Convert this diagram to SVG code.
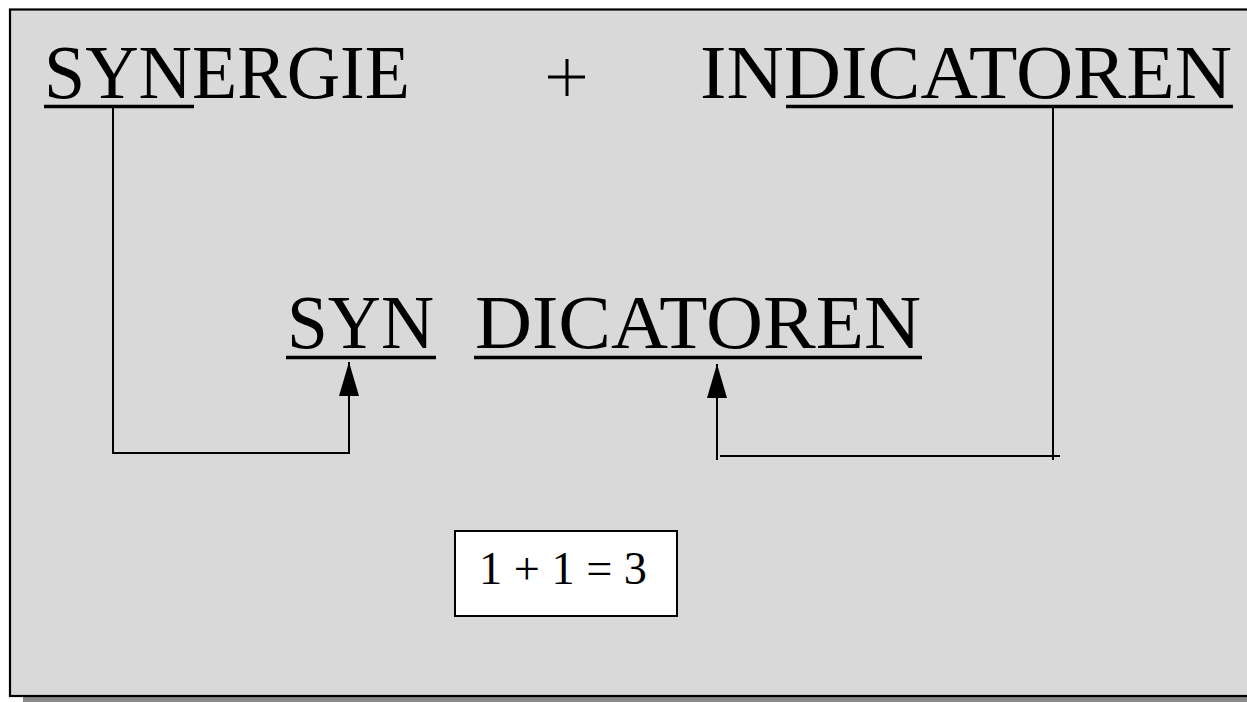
<svg xmlns="http://www.w3.org/2000/svg" width="1247" height="702" viewBox="0 0 1247 702">
  <style>
    .t { font-family: "Liberation Serif", "DejaVu Serif", serif; font-size: 76px; fill: #000; }
    .u { stroke: #000; stroke-width: 3.5; fill: none; }
    .c { stroke: #000; stroke-width: 2; fill: none; }
    .p { stroke: #000; stroke-width: 3; fill: none; }
    .eq { font-family: "Liberation Serif", "DejaVu Serif", serif; font-size: 47px; fill: #000; }
  </style>
  <defs>
    <marker id="arrow" viewBox="0 0 34 20" refX="34" refY="10" markerWidth="34" markerHeight="20" markerUnits="userSpaceOnUse" orient="auto">
      <path d="M0,0 L34,10 L0,20 Z" fill="#000"/>
    </marker>
  </defs>
  <rect width="1247" height="702" fill="#ffffff"/>
  <g id="frame">
    <rect x="23" y="697" width="1230" height="6" fill="#888888"/>
    <rect x="10" y="9.5" width="1250" height="686.5" fill="#d9d9d9" stroke="#000" stroke-width="2.2"/>
  </g>
  <g id="synergie">
    <text class="t" x="44" y="98" textLength="366" lengthAdjust="spacingAndGlyphs">SYNERGIE</text>
    <line class="u" x1="44" y1="106.5" x2="194" y2="106.5"/>
  </g>
  <g id="plus">
    <line class="p" x1="548" y1="77" x2="585" y2="77"/>
    <line class="p" x1="567" y1="59" x2="567" y2="96"/>
  </g>
  <g id="indicatoren">
    <text class="t" x="700" y="98" textLength="532" lengthAdjust="spacingAndGlyphs">INDICATOREN</text>
    <line class="u" x1="786" y1="106.5" x2="1233" y2="106.5"/>
  </g>
  <g id="syn">
    <text class="t" x="287" y="348" textLength="147" lengthAdjust="spacingAndGlyphs">SYN</text>
    <line class="u" x1="286" y1="357.5" x2="436" y2="357.5"/>
  </g>
  <g id="dicatoren">
    <text class="t" x="475" y="348" textLength="446" lengthAdjust="spacingAndGlyphs">DICATOREN</text>
    <line class="u" x1="474" y1="357.5" x2="922" y2="357.5"/>
  </g>
  <g id="equation">
    <rect x="455" y="531" width="222" height="85" fill="#ffffff" stroke="#000" stroke-width="2"/>
    <text class="eq" x="479" y="584" textLength="168" lengthAdjust="spacingAndGlyphs">1 + 1 = 3</text>
  </g>
  <g id="connectors">
    <path class="c" d="M113,108 L113,453 L349,453 L349,362" marker-end="url(#arrow)"/>
    <path class="c" d="M1053,108 L1053,460 M720,456 L1060,456"/>
    <path class="c" d="M717,460 L717,364" marker-end="url(#arrow)"/>
  </g>
</svg>
